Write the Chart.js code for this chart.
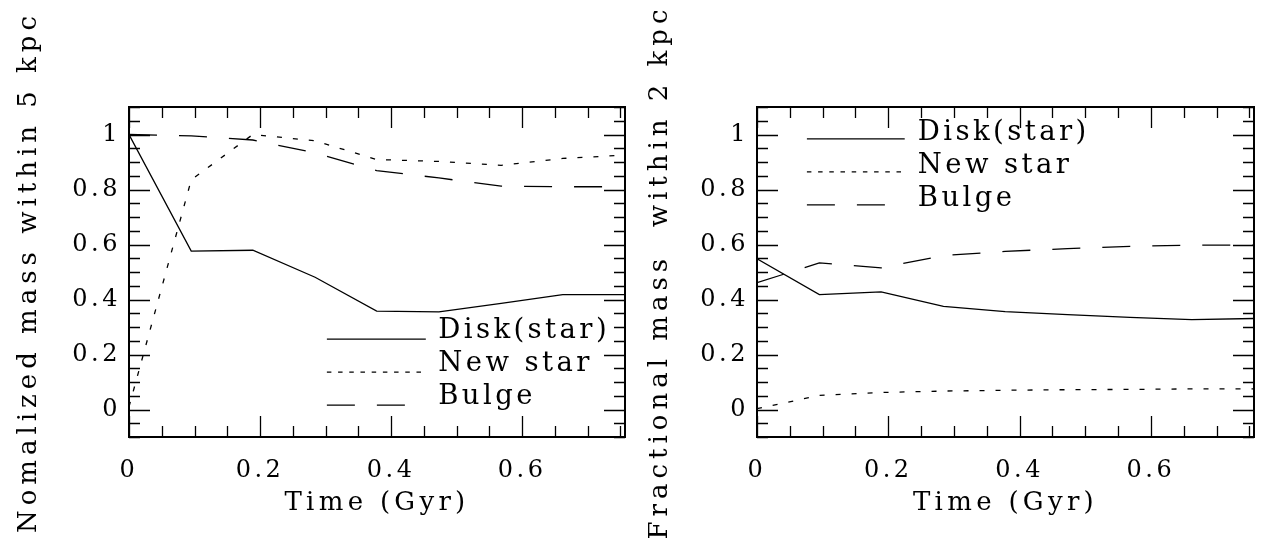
<!DOCTYPE html>
<html>
<head>
<meta charset="utf-8">
<script src="https://cdn.jsdelivr.net/npm/chart.js@4.4.0/dist/chart.umd.min.js"></script>
<style>
  html, body { margin: 0; padding: 0; background: #fff; }
  #wrap { position: relative; width: 1266px; height: 544px; }
  canvas { position: absolute; top: 0; }
</style>
</head>
<body>
<div id="wrap">
  <canvas id="leftPanel" width="633" height="544" style="left:0"></canvas>
  <canvas id="rightPanel" width="633" height="544" style="left:633px"></canvas>
</div>
<script>
// time axis (Gyr), shared by both panels
const timeGyr = [0, 0.095, 0.189, 0.284, 0.378, 0.473, 0.568, 0.662, 0.757];

// left panel: normalized mass within 5 kpc
const diskStar5 = [1.0, 0.576, 0.579, 0.481, 0.358, 0.355, 0.386, 0.418, 0.418];
const newStar5  = [0.01, 0.835, 1.0, 0.977, 0.909, 0.902, 0.888, 0.913, 0.925];
const bulge5    = [1.0, 0.995, 0.98, 0.933, 0.869, 0.842, 0.812, 0.81, 0.81];

// right panel: fractional mass within 2 kpc
const diskStar2 = [0.548, 0.418, 0.428, 0.375, 0.356, 0.345, 0.335, 0.327, 0.331];
const newStar2  = [0.003, 0.051, 0.062, 0.067, 0.07, 0.072, 0.073, 0.075, 0.075];
const bulge2    = [0.461, 0.533, 0.515, 0.56, 0.575, 0.585, 0.593, 0.598, 0.598];

const seriesNames = ['Disk(star)', 'New star', 'Bulge'];
const xTicks = [0, 0.2, 0.4, 0.6];
const yTicks = [0, 0.2, 0.4, 0.6, 0.8, 1];

const SERIF = '"DejaVu Serif", serif';
Chart.defaults.font.family = SERIF;
Chart.defaults.color = '#000';

// line styles: solid, dotted, dashed
const dashes = [[], [5, 11], [28, 22]];
const legendDashes = [[], [4.5, 6.7], [28, 22]];

// PGPLOT-like box: frame, inward ticks on all sides, titles and legend
const pgBox = {
  id: 'pgBox',
  beforeDraw(chart) {
    chart.ctx.letterSpacing = '3.5px';
  },
  afterDraw(chart, args, opts) {
    const { ctx, chartArea: a, scales: { x, y } } = chart;
    ctx.save();
    ctx.strokeStyle = '#000';
    ctx.lineWidth = 1.3;
    const minor = 0.05, major = 0.2;
    const isMajor = v => Math.abs(v / major - Math.round(v / major)) < 1e-6;
    ctx.beginPath();
    for (let i = Math.ceil(x.min / minor - 1e-6); i * minor <= x.max + 1e-9; i++) {
      const v = i * minor, px = Math.round(x.getPixelForValue(v)) + 0.5;
      const len = isMajor(v) ? 21 : 11;
      ctx.moveTo(px, a.bottom); ctx.lineTo(px, a.bottom - len);
      ctx.moveTo(px, a.top); ctx.lineTo(px, a.top + len);
    }
    for (let i = Math.ceil(y.min / minor - 1e-6); i * minor <= y.max + 1e-9; i++) {
      const v = i * minor, py = Math.round(y.getPixelForValue(v)) + 0.5;
      const len = isMajor(v) ? 21 : 11;
      ctx.moveTo(a.left, py); ctx.lineTo(a.left + len, py);
      ctx.moveTo(a.right, py); ctx.lineTo(a.right - len, py);
    }
    ctx.stroke();
    ctx.lineWidth = 2;
    ctx.strokeRect(a.left, a.top, a.right - a.left, a.bottom - a.top);

    // legend
    const lg = opts.legend;
    ctx.font = '27.5px ' + SERIF;
    ctx.letterSpacing = '3.4px';
    ctx.fillStyle = '#000';
    ctx.textAlign = 'left';
    ctx.textBaseline = 'alphabetic';
    chart.data.datasets.forEach((ds, i) => {
      const yy = y.getPixelForValue(lg.y0 + i * lg.dy);
      ctx.lineWidth = 1.3;
      ctx.setLineDash(legendDashes[i]);
      ctx.beginPath();
      ctx.moveTo(x.getPixelForValue(lg.x0), yy);
      ctx.lineTo(x.getPixelForValue(lg.x1), yy);
      ctx.stroke();
      ctx.setLineDash([]);
      ctx.fillText(ds.label, x.getPixelForValue(lg.xt), yy + lg.shift);
    });

    // axis titles
    ctx.font = '26px ' + SERIF;
    ctx.letterSpacing = '4.3px';
    ctx.textAlign = 'center';
    ctx.fillText('Time (Gyr)', (a.left + a.right) / 2, 510);
    ctx.letterSpacing = '5px';
    ctx.translate(opts.yTitleX, (a.top + a.bottom) / 2);
    ctx.rotate(-Math.PI / 2);
    ctx.fillText(opts.yTitle, 0, 0);
    ctx.restore();
  }
};

function makePanel(id, series, yTitle, yWidth, padRight, yTitleX, legend) {
  const ctx = document.getElementById(id).getContext('2d');
  return new Chart(ctx, {
    type: 'line',
    data: {
      datasets: series.map((s, i) => ({
        label: seriesNames[i],
        data: timeGyr.map((t, k) => ({ x: t, y: s[k] })),
        borderColor: '#000',
        borderWidth: 1.3,
        borderDash: dashes[i],
        pointRadius: 0,
        fill: false,
        tension: 0
      }))
    },
    options: {
      responsive: false,
      animation: false,
      devicePixelRatio: 1,
      layout: { padding: { left: 0, top: 107, right: padRight, bottom: 0 } },
      plugins: {
        legend: { display: false },
        tooltip: { enabled: false },
        pgBox: { yTitle, yTitleX, legend }
      },
      scales: {
        x: {
          type: 'linear',
          min: timeGyr[0],
          max: timeGyr[timeGyr.length - 1],
          grid: { display: false, drawTicks: false },
          border: { display: false },
          afterBuildTicks: sc => { sc.ticks = xTicks.map(v => ({ value: v })); },
          afterFit: sc => { sc.height = 107; },
          ticks: { font: { size: 24 }, padding: 19, maxRotation: 0, callback: v => String(+v.toFixed(1)) }
        },
        y: {
          min: -0.1,
          max: 1.1,
          grid: { display: false, drawTicks: false },
          border: { display: false },
          afterBuildTicks: sc => { sc.ticks = yTicks.map(v => ({ value: v })); },
          afterFit: sc => { sc.width = yWidth; },
          ticks: { font: { size: 24 }, padding: 8, callback: v => String(+v.toFixed(1)) }
        }
      }
    },
    plugins: [pgBox]
  });
}

makePanel('leftPanel', [diskStar5, newStar5, bulge5], 'Nomalized mass within 5 kpc', 129, 8, 36,
  { x0: 0.302, x1: 0.453, xt: 0.472, y0: 0.256, dy: -0.12, shift: -1.5 });
makePanel('rightPanel', [diskStar2, newStar2, bulge2], 'Fractional mass  within 2 kpc', 124, 12, 34,
  { x0: 0.076, x1: 0.225, xt: 0.245, y0: 0.984, dy: -0.12, shift: 1.5 });
</script>
</body>
</html>
